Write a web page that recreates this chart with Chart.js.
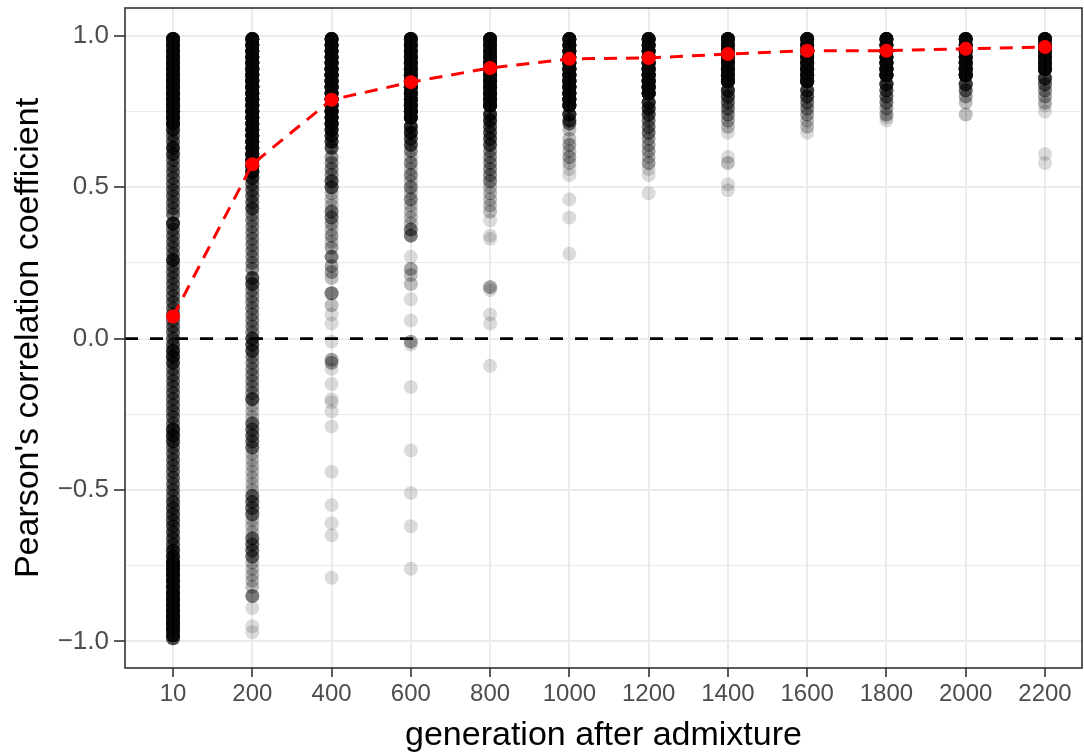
<!DOCTYPE html>
<html lang="en">
  <head>
    <meta charset="UTF-8" />
    <title>Pearson's correlation by generation</title>
    <style>
      * {
        box-sizing: border-box;
        margin: 0;
        padding: 0;
      }

      body {
        background-color: #ffffff;
        width: 1084px;
        height: 753px;
        overflow: hidden;
      }

      .chart-box {
        position: relative;
        width: 1084px;
        height: 753px;
      }

      canvas {
        display: block;
      }
    </style>
    <script src="https://cdn.jsdelivr.net/npm/chart.js"></script>
  </head>
  <body>
    <div class="chart-box">
      <canvas id="corrChart" width="1084" height="753"></canvas>
    </div>
    <script>
      // x categories (generation after admixture)
      const generations = ["10", "200", "400", "600", "800", "1000", "1200", "1400", "1600", "1800", "2000", "2200"];

      // mean correlation per generation (red dashed line)
      const meanCorr = [0.073, 0.576, 0.789, 0.847, 0.894, 0.924, 0.927, 0.94, 0.951, 0.951, 0.957, 0.963];

      // replicate correlations: [value, how many points overlap there]
      const gen10 = [
        [0.99, 25], [0.97, 25], [0.95, 25], [0.93, 25], [0.91, 25], [0.89, 25], [0.87, 25], [0.85, 25],
        [0.83, 25], [0.81, 25], [0.79, 25], [0.77, 25], [0.75, 25], [0.73, 25], [0.71, 25],
        [0.69, 12], [0.67, 7], [0.65, 7], [0.63, 12], [0.61, 10], [0.59, 6], [0.57, 6], [0.55, 6],
        [0.53, 6], [0.51, 6], [0.49, 6], [0.47, 6], [0.45, 6], [0.43, 6], [0.41, 6], [0.38, 12],
        [0.36, 6], [0.34, 6], [0.32, 6], [0.3, 6], [0.28, 6], [0.26, 12], [0.24, 6], [0.22, 6],
        [0.2, 6], [0.18, 6], [0.16, 6], [0.14, 6], [0.12, 6], [0.1, 6], [0.08, 6], [0.06, 6],
        [0.04, 6], [0.02, 6], [0.0, 6], [-0.02, 8], [-0.04, 12], [-0.06, 12], [-0.08, 10], [-0.1, 6],
        [-0.12, 6], [-0.14, 6], [-0.16, 6], [-0.18, 6], [-0.2, 6], [-0.22, 6], [-0.24, 6], [-0.26, 6],
        [-0.28, 6], [-0.3, 12], [-0.32, 12], [-0.34, 10], [-0.36, 6], [-0.38, 6], [-0.4, 6], [-0.42, 6],
        [-0.44, 6], [-0.46, 6], [-0.48, 6], [-0.5, 6], [-0.52, 6], [-0.54, 8], [-0.56, 8], [-0.58, 8],
        [-0.6, 8], [-0.62, 8], [-0.64, 8], [-0.66, 8], [-0.68, 8], [-0.7, 12], [-0.72, 15], [-0.74, 25],
        [-0.76, 25], [-0.78, 25], [-0.8, 25], [-0.82, 25], [-0.84, 25], [-0.86, 25], [-0.88, 25],
        [-0.9, 25], [-0.92, 25], [-0.94, 25], [-0.96, 25], [-0.98, 16], [-0.99, 8]
      ];
      const gen200 = [
        [0.99, 25], [0.97, 25], [0.95, 25], [0.93, 25], [0.91, 25], [0.89, 25], [0.87, 25], [0.85, 25],
        [0.83, 25], [0.81, 25], [0.79, 25], [0.77, 25], [0.75, 25], [0.73, 25], [0.71, 25], [0.69, 25],
        [0.67, 25], [0.65, 25], [0.63, 25], [0.61, 25], [0.59, 25], [0.57, 25], [0.55, 18],
        [0.53, 10], [0.51, 6], [0.49, 6], [0.47, 6], [0.45, 6], [0.43, 8], [0.41, 4], [0.39, 4],
        [0.37, 4], [0.35, 4], [0.33, 4], [0.31, 4], [0.29, 4], [0.27, 4], [0.25, 4], [0.23, 4],
        [0.2, 8], [0.18, 8], [0.16, 4], [0.14, 4], [0.12, 4], [0.1, 4], [0.08, 4], [0.06, 4],
        [0.04, 4], [0.02, 4], [0.0, 8], [-0.02, 8], [-0.04, 8], [-0.06, 4], [-0.08, 4], [-0.1, 4],
        [-0.12, 4], [-0.14, 4], [-0.16, 4], [-0.18, 4], [-0.2, 8], [-0.22, 2], [-0.24, 2], [-0.26, 2],
        [-0.28, 6], [-0.3, 6], [-0.32, 6], [-0.34, 6], [-0.36, 6], [-0.38, 2], [-0.4, 2], [-0.42, 2],
        [-0.44, 2], [-0.46, 2], [-0.48, 2], [-0.5, 2], [-0.52, 6], [-0.54, 6], [-0.56, 6], [-0.58, 6],
        [-0.6, 2], [-0.62, 2], [-0.64, 2], [-0.66, 6], [-0.68, 6], [-0.7, 6], [-0.72, 6], [-0.74, 2],
        [-0.76, 2], [-0.78, 2], [-0.8, 2], [-0.82, 2], [-0.85, 5], [-0.89, 1], [-0.95, 1], [-0.97, 1]
      ];
      const gen400 = [
        [0.99, 25], [0.97, 25], [0.95, 25], [0.93, 25], [0.91, 25], [0.89, 25], [0.87, 25], [0.85, 25],
        [0.83, 25], [0.81, 25], [0.79, 25], [0.77, 25], [0.75, 25], [0.73, 25], [0.71, 25], [0.69, 16],
        [0.67, 12], [0.65, 10], [0.63, 8], [0.6, 4], [0.58, 4], [0.56, 4], [0.54, 4], [0.52, 7],
        [0.5, 7], [0.48, 2], [0.46, 2], [0.44, 2], [0.42, 5], [0.4, 5], [0.38, 3], [0.36, 2],
        [0.34, 3], [0.32, 2], [0.3, 3], [0.27, 5], [0.24, 3], [0.22, 3], [0.2, 2], [0.15, 5],
        [0.11, 2], [0.08, 1], [0.05, 1], [-0.01, 1], [-0.07, 3], [-0.08, 3], [-0.1, 1], [-0.15, 1],
        [-0.2, 1], [-0.21, 1], [-0.24, 1], [-0.29, 1], [-0.44, 1], [-0.55, 1], [-0.61, 1], [-0.65, 1],
        [-0.79, 1]
      ];
      const gen600 = [
        [0.99, 25], [0.97, 25], [0.95, 25], [0.93, 25], [0.91, 25], [0.89, 25], [0.87, 25], [0.85, 25],
        [0.83, 25], [0.81, 25], [0.79, 25], [0.77, 25], [0.75, 25], [0.73, 25], [0.7, 12], [0.68, 12],
        [0.66, 8], [0.64, 8], [0.62, 4], [0.6, 2], [0.58, 4], [0.56, 2], [0.54, 4], [0.52, 2],
        [0.5, 4], [0.48, 2], [0.46, 4], [0.44, 2], [0.42, 2], [0.4, 2], [0.38, 2], [0.36, 5],
        [0.34, 5], [0.27, 1], [0.23, 3], [0.21, 2], [0.18, 2], [0.13, 1], [0.06, 1], [-0.01, 3],
        [-0.02, 1], [-0.16, 1], [-0.37, 1], [-0.51, 1], [-0.62, 1], [-0.76, 1]
      ];
      const gen800 = [
        [0.99, 25], [0.97, 25], [0.95, 25], [0.93, 25], [0.91, 25], [0.89, 25], [0.87, 25], [0.85, 25],
        [0.83, 25], [0.81, 25], [0.79, 25], [0.77, 25], [0.74, 12], [0.72, 12], [0.7, 8], [0.68, 8],
        [0.66, 8], [0.64, 8], [0.62, 4], [0.6, 4], [0.58, 4], [0.56, 4], [0.54, 4], [0.52, 4],
        [0.5, 2], [0.48, 2], [0.46, 2], [0.44, 2], [0.42, 2], [0.39, 1], [0.34, 1], [0.33, 1],
        [0.17, 3], [0.16, 1], [0.08, 1], [0.05, 1], [-0.09, 1]
      ];
      const gen1000 = [
        [0.99, 25], [0.97, 25], [0.95, 25], [0.93, 25], [0.91, 25], [0.89, 25], [0.87, 25], [0.85, 25],
        [0.83, 25], [0.81, 25], [0.79, 25], [0.77, 25], [0.74, 12], [0.72, 8], [0.71, 5], [0.69, 2],
        [0.66, 2], [0.64, 3], [0.62, 2], [0.6, 3], [0.58, 2], [0.56, 1], [0.54, 1], [0.46, 1],
        [0.4, 1], [0.28, 1]
      ];
      const gen1200 = [
        [0.99, 25], [0.97, 25], [0.95, 25], [0.93, 25], [0.91, 25], [0.89, 25], [0.87, 25], [0.85, 25],
        [0.83, 25], [0.81, 25], [0.78, 12], [0.76, 10], [0.74, 8], [0.72, 5], [0.7, 5], [0.68, 5],
        [0.66, 3], [0.64, 3], [0.62, 3], [0.6, 2], [0.58, 3], [0.56, 1], [0.54, 1], [0.48, 1]
      ];
      const gen1400 = [
        [0.99, 25], [0.97, 25], [0.95, 25], [0.93, 25], [0.91, 25], [0.89, 25], [0.87, 25], [0.85, 25],
        [0.82, 12], [0.8, 8], [0.78, 6], [0.76, 5], [0.74, 4], [0.72, 3], [0.7, 2], [0.68, 1],
        [0.6, 1], [0.58, 2], [0.51, 1], [0.49, 1]
      ];
      const gen1600 = [
        [0.99, 25], [0.97, 25], [0.95, 25], [0.93, 25], [0.91, 25], [0.89, 25], [0.87, 25], [0.85, 25],
        [0.82, 10], [0.8, 8], [0.78, 5], [0.76, 4], [0.74, 3], [0.72, 2], [0.7, 2], [0.68, 1]
      ];
      const gen1800 = [
        [0.99, 25], [0.97, 25], [0.95, 25], [0.93, 25], [0.91, 25], [0.89, 25], [0.87, 25], [0.84, 12],
        [0.82, 8], [0.8, 6], [0.78, 5], [0.76, 3], [0.74, 3], [0.73, 1], [0.72, 1]
      ];
      const gen2000 = [
        [0.99, 25], [0.97, 25], [0.95, 25], [0.93, 25], [0.91, 25], [0.89, 25], [0.87, 25], [0.84, 10],
        [0.82, 6], [0.8, 3], [0.78, 2], [0.74, 2]
      ];
      const gen2200 = [
        [0.99, 25], [0.97, 25], [0.95, 25], [0.93, 25], [0.91, 25], [0.89, 25], [0.86, 10], [0.84, 6],
        [0.82, 4], [0.8, 3], [0.78, 2], [0.77, 1], [0.75, 1], [0.61, 1], [0.58, 1]
      ];
      const replicates = [gen10, gen200, gen400, gen600, gen800, gen1000, gen1200, gen1400, gen1600, gen1800, gen2000, gen2200];

      // y axis ticks (labels on the .5 ones, minor grid on the .25 ones)
      const yTicks = [-1, -0.75, -0.5, -0.25, 0, 0.25, 0.5, 0.75, 1];
      const yLabelled = [-1, -0.5, 0, 0.5, 1];

      const xMin = -0.606;
      const xMax = 11.467;
      const yMin = -1.088;
      const yMax = 1.092;

      const FONT = "'Liberation Sans', Arial, Helvetica, sans-serif";

      function buildScatter() {
        const pts = [];
        replicates.forEach((col, i) => {
          col.forEach(([v, n]) => {
            for (let k = 0; k < n; k++) pts.push({ x: i, y: v });
          });
        });
        return pts;
      }

      const panelBorder = {
        id: "panelBorder",
        afterDraw(chart) {
          const { ctx, chartArea } = chart;
          ctx.save();
          ctx.strokeStyle = "#333333";
          ctx.lineWidth = 1.6;
          ctx.strokeRect(chartArea.left, chartArea.top, chartArea.right - chartArea.left, chartArea.bottom - chartArea.top);
          ctx.restore();
        },
      };

      new Chart(document.getElementById("corrChart").getContext("2d"), {
        type: "scatter",
        data: {
          datasets: [
            {
              label: "replicates",
              data: buildScatter(),
              backgroundColor: "rgba(0,0,0,0.14)",
              borderWidth: 0,
              pointRadius: 7,
              order: 3,
            },
            {
              label: "zero",
              type: "line",
              data: [{ x: xMin, y: 0 }, { x: xMax, y: 0 }],
              borderColor: "#000000",
              borderWidth: 2.6,
              borderDash: [13, 12],
              pointRadius: 0,
              order: 2,
            },
            {
              label: "mean",
              type: "line",
              data: meanCorr.map((v, i) => ({ x: i, y: v })),
              borderColor: "#ff0000",
              backgroundColor: "#ff0000",
              borderWidth: 3,
              borderDash: [13, 9],
              pointRadius: 7,
              pointBorderWidth: 0,
              order: 1,
            },
          ],
        },
        options: {
          responsive: false,
          animation: false,
          devicePixelRatio: 1,
          layout: {
            autoPadding: false,
            padding: { top: 8, right: 2, left: 0, bottom: 0 },
          },
          plugins: {
            legend: { display: false },
            tooltip: { enabled: false },
          },
          scales: {
            x: {
              type: "linear",
              min: xMin,
              max: xMax,
              afterBuildTicks: (scale) => {
                scale.ticks = generations.map((g, i) => ({ value: i }));
              },
              afterFit: (scale) => {
                scale.height = 85;
                scale.paddingLeft = 0;
                scale.paddingRight = 0;
              },
              ticks: {
                autoSkip: false,
                maxRotation: 0,
                padding: 3,
                color: "#4d4d4d",
                font: { family: FONT, size: 24 },
                callback: (v) => generations[v],
              },
              grid: {
                color: "#ebebeb",
                lineWidth: 2,
                tickColor: "#333333",
                tickLength: 9,
                tickWidth: 1.6,
              },
              border: { display: false },
              title: {
                display: true,
                text: "generation after admixture",
                color: "#000000",
                font: { family: FONT, size: 34, lineHeight: 1.05 },
                padding: { top: 0, bottom: 0 },
              },
            },
            y: {
              type: "linear",
              min: yMin,
              max: yMax,
              afterBuildTicks: (scale) => {
                scale.ticks = yTicks.map((v) => ({ value: v }));
              },
              afterFit: (scale) => {
                scale.width = 125;
                scale.paddingTop = 0;
                scale.paddingBottom = 0;
              },
              ticks: {
                autoSkip: false,
                padding: 5,
                color: "#4d4d4d",
                font: { family: FONT, size: 26 },
                callback: (v) => (yLabelled.includes(v) ? (v < 0 ? "\u2212" : "") + Math.abs(v).toFixed(1) : ""),
              },
              grid: {
                color: "#ebebeb",
                lineWidth: (ctx) => (ctx.tick && yLabelled.includes(ctx.tick.value) ? 2 : 1),
                tickColor: (ctx) => (ctx.tick && yLabelled.includes(ctx.tick.value) ? "#333333" : "rgba(0,0,0,0)"),
                tickLength: 11,
                tickWidth: 1.6,
              },
              border: { display: false },
              title: {
                display: true,
                text: "Pearson's correlation coefficient",
                color: "#000000",
                font: { family: FONT, size: 34, lineHeight: 1.05 },
                padding: { top: 11, bottom: 0 },
              },
            },
          },
        },
        plugins: [panelBorder],
      });
    </script>
  </body>
</html>
